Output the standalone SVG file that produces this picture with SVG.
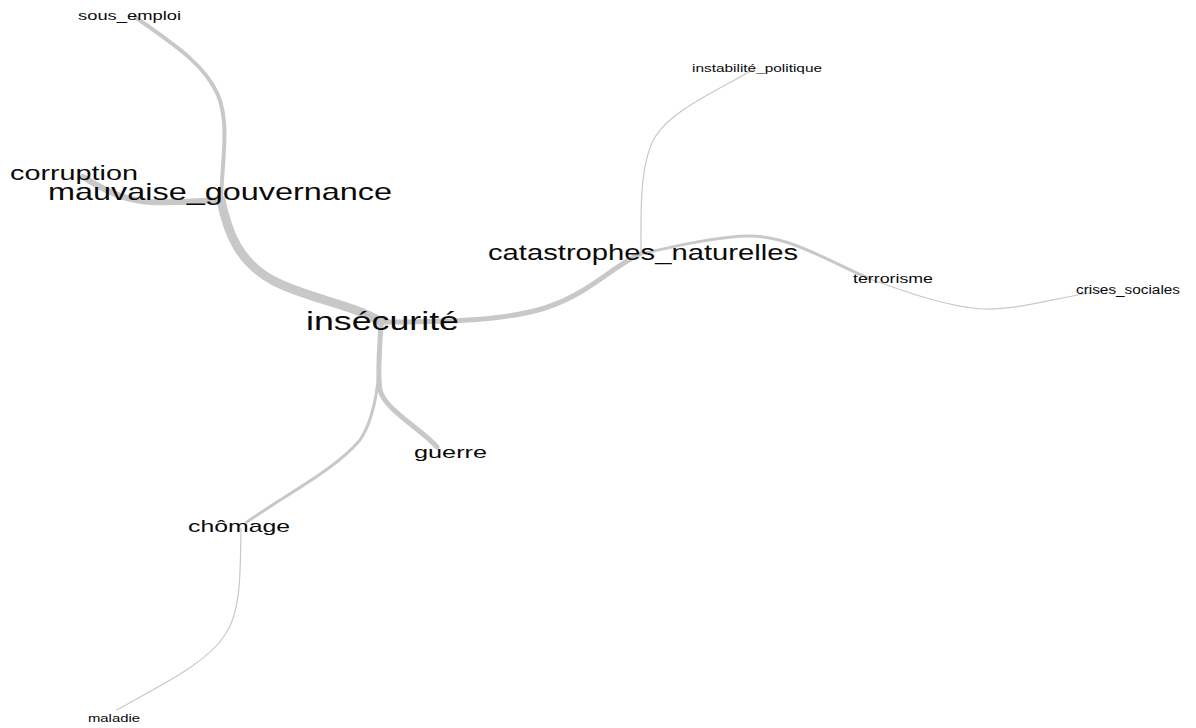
<svg xmlns="http://www.w3.org/2000/svg" width="1196" height="728" viewBox="0 0 1196 728">
<style>
.e{fill:none;stroke:#c8c8c8;stroke-linecap:round;stroke-linejoin:round}
.t{font-family:"Liberation Sans",Arial,sans-serif;fill:#0a0a0a}
</style>
<rect width="1196" height="728" fill="#fff"/>
<g id="edges">
<path class="e" stroke-width="4" d="M135,17 C175,45 205,65 218,95 C230,125 222,160 221,200"/>
<path class="e" stroke-width="6" d="M83,177 C100,187 120,200 150,202 C180,203 205,201 221,200"/>
<path class="e" stroke-width="9" d="M221,200 C228,235 240,262 272,280 C305,298 355,305 381,322"/>
<path class="e" stroke-width="5" d="M381,322 C430,322 500,322 545,308 C590,293 610,268 640,254"/>
<path class="e" stroke-width="1.2" d="M641,254 C641,215 639,165 655,137 C672,110 715,92 756,68"/>
<path class="e" stroke-width="3" d="M640,254 C680,245 720,236 750,236 C790,236 830,262 870,279"/>
<path class="e" stroke-width="1.2" d="M870,279 C900,290 950,308 985,309 C1020,310 1060,296 1115,289"/>
<path class="e" stroke-width="5" d="M381,322 C380,350 377,370 380,390 C385,410 420,428 437,447"/>
<path class="e" stroke-width="3" d="M381,322 C380,360 380,410 360,440 C335,470 285,495 247,522"/>
<path class="e" stroke-width="1.2" d="M241,528 C240,570 242,610 225,635 C205,665 160,685 117,710"/>
</g>
<g id="sous_emploi"><text class="t" x="78" y="20" font-size="12" textLength="103" lengthAdjust="spacingAndGlyphs">sous_emploi</text></g>
<g id="corruption"><text class="t" x="10" y="180" font-size="20" textLength="128" lengthAdjust="spacingAndGlyphs">corruption</text></g>
<g id="mauvaise_gouvernance"><text class="t" x="48" y="200" font-size="24" textLength="344" lengthAdjust="spacingAndGlyphs">mauvaise_gouvernance</text></g>
<g id="insecurite"><text class="t" x="306" y="330" font-size="25" textLength="153" lengthAdjust="spacingAndGlyphs">insécurité</text></g>
<g id="catastrophes_naturelles"><text class="t" x="488" y="260" font-size="22" textLength="310" lengthAdjust="spacingAndGlyphs">catastrophes_naturelles</text></g>
<g id="instabilite_politique"><text class="t" x="692" y="72" font-size="11" textLength="130" lengthAdjust="spacingAndGlyphs">instabilité_politique</text></g>
<g id="terrorisme"><text class="t" x="853" y="283" font-size="13" textLength="80" lengthAdjust="spacingAndGlyphs">terrorisme</text></g>
<g id="crises_sociales"><text class="t" x="1076" y="294" font-size="12" textLength="104" lengthAdjust="spacingAndGlyphs">crises_sociales</text></g>
<g id="guerre"><text class="t" x="414" y="458" font-size="17" textLength="73" lengthAdjust="spacingAndGlyphs">guerre</text></g>
<g id="chomage"><text class="t" x="188" y="532" font-size="17" textLength="102" lengthAdjust="spacingAndGlyphs">chômage</text></g>
<g id="maladie"><text class="t" x="88" y="722" font-size="11" textLength="52" lengthAdjust="spacingAndGlyphs">maladie</text></g>
</svg>
